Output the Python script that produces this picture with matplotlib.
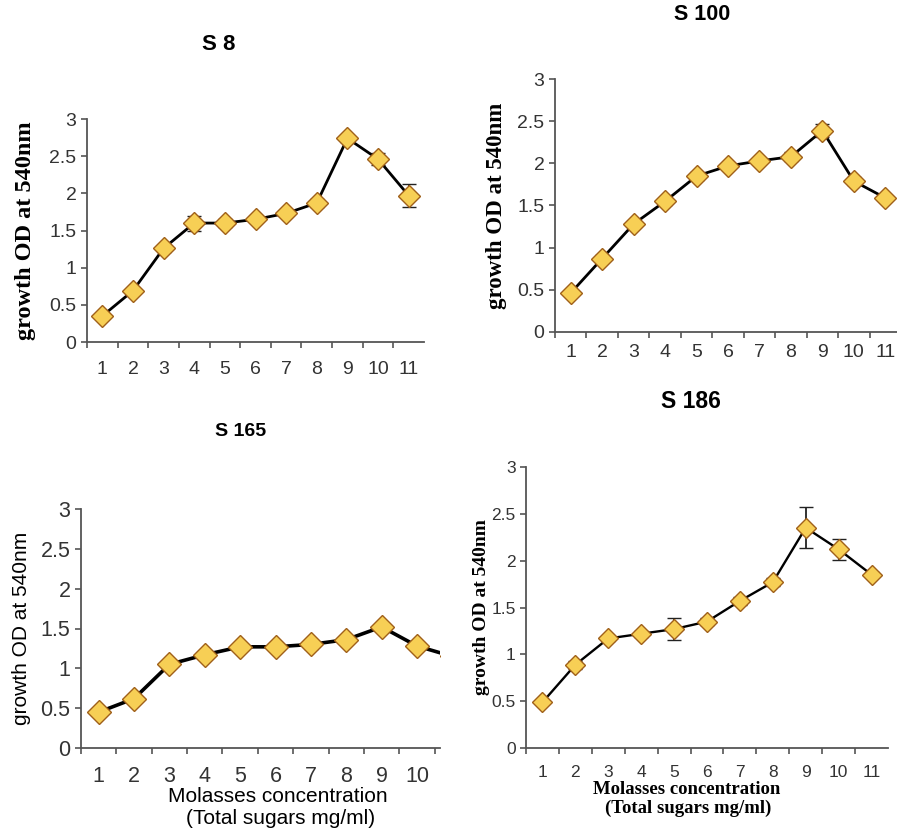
import matplotlib.pyplot as plt

plt.rcParams['font.family'] = ['Liberation Sans', 'DejaVu Sans']

conc = [1, 2, 3, 4, 5, 6, 7, 8, 9, 10, 11]

s8_od = [0.35, 0.69, 1.26, 1.60, 1.60, 1.65, 1.73, 1.87, 2.74, 2.46, 1.97]
s8_err = [0.03, 0.03, 0.05, 0.10, 0.05, 0.03, 0.04, 0.05, 0.05, 0.08, 0.15]

s100_od = [0.46, 0.87, 1.28, 1.55, 1.85, 1.97, 2.03, 2.08, 2.39, 1.79, 1.59]
s100_err = [0.03, 0.04, 0.04, 0.04, 0.05, 0.04, 0.03, 0.05, 0.08, 0.05, 0.03]

s165_od = [0.45, 0.62, 1.05, 1.17, 1.27, 1.27, 1.30, 1.36, 1.52, 1.28, 1.15]
s165_err = [0.03, 0.03, 0.04, 0.04, 0.03, 0.03, 0.06, 0.04, 0.04, 0.03, 0.03]

s186_od = [0.49, 0.89, 1.17, 1.22, 1.27, 1.35, 1.57, 1.77, 2.35, 2.12, 1.85]
s186_err = [0.02, 0.04, 0.03, 0.03, 0.12, 0.04, 0.04, 0.04, 0.22, 0.115, 0.03]

fill = '#f7cf55'
edge = '#a0601a'
axis_col = '#555555'

W, H = 897, 836
fig = plt.figure(figsize=(W / 100, H / 100), dpi=100)


def panel(box, od, err, title, title_xy, title_fs, xmax, ylab_font, ylab_x, tick_fs, pad, lw, ms):
    left, top, right, bottom = box
    ax = fig.add_axes([left / W, 1 - bottom / H, (right - left) / W, (bottom - top) / H])
    ax.errorbar(conc, od, yerr=err, color='black', lw=lw, ecolor='#222222',
                elinewidth=1.3, capsize=5, capthick=1.3, marker='D', ms=ms,
                mfc=fill, mec=edge, mew=1.0, zorder=3, clip_on=True)
    ax.set_xlim(0.5, xmax)
    ax.set_ylim(0, 3)
    ax.set_yticks([0, 0.5, 1, 1.5, 2, 2.5, 3])
    ax.set_yticklabels(['0', '0.5', '1', '1.5', '2', '2.5', '3'], fontsize=tick_fs, color='#333333')
    # ticks sit between categories, labels at category centres
    ax.set_xticks([c + 0.5 for c in range(0, 11) if c + 0.5 <= xmax])
    ax.set_xticklabels([])
    shown = [c for c in conc if c < xmax]
    ax.set_xticks(shown, minor=True)
    ax.set_xticklabels([str(c) for c in shown], minor=True, fontsize=tick_fs, color='#333333')
    ax.tick_params(axis='x', which='minor', length=0, pad=pad)
    ax.tick_params(axis='both', which='major', length=4, color=axis_col, width=1.2)
    for s in ['top', 'right']:
        ax.spines[s].set_visible(False)
    for s in ['left', 'bottom']:
        ax.spines[s].set_color(axis_col)
        ax.spines[s].set_linewidth(1.3)
    fig.text(title_xy[0] / W, 1 - title_xy[1] / H, title, ha='center', va='center',
             fontsize=title_fs, fontweight='bold')
    ax.set_ylabel('growth OD at 540nm', **ylab_font)
    ax.yaxis.set_label_coords(ylab_x, 0.5)
    return ax


panel((87, 119, 424, 342), s8_od, s8_err, 'S 8', (219, 45), 16, 11.5,
      dict(family='Liberation Serif', fontweight='bold', fontsize=17.5), -0.15, 14, 14, 2.0, 11)

panel((555, 79.3, 901, 331.7), s100_od, s100_err, 'S 100', (702, 15), 15.5, 11.5,
      dict(family='Liberation Serif', fontweight='bold', fontsize=16.5), -0.14, 14, 9, 2.0, 11)

panel((81, 509, 440, 748), s165_od, s165_err, 'S 165', (241, 432), 14, 10.65,
      dict(family='Liberation Sans', fontsize=15), -0.14, 15.5, 13, 2.6, 12)
fig.text(278 / W, 1 - 797 / H, 'Molasses concentration', ha='center', va='center', fontsize=15)
fig.text(281 / W, 1 - 818 / H, '(Total sugars mg/ml)', ha='center', va='center', fontsize=15)

panel((526, 466.7, 888, 748.3), s186_od, s186_err, 'S 186', (691, 402), 16.5, 11.5,
      dict(family='Liberation Serif', fontweight='bold', fontsize=14), -0.10, 12.5, 12, 1.7, 10)
fig.text(687 / W, 1 - 789 / H, 'Molasses concentration', ha='center', va='center',
         family='Liberation Serif', fontweight='bold', fontsize=13.5)
fig.text(688 / W, 1 - 808 / H, '(Total sugars mg/ml)', ha='center', va='center',
         family='Liberation Serif', fontweight='bold', fontsize=13.5)

fig.savefig('out.png', dpi=100, facecolor='white')
